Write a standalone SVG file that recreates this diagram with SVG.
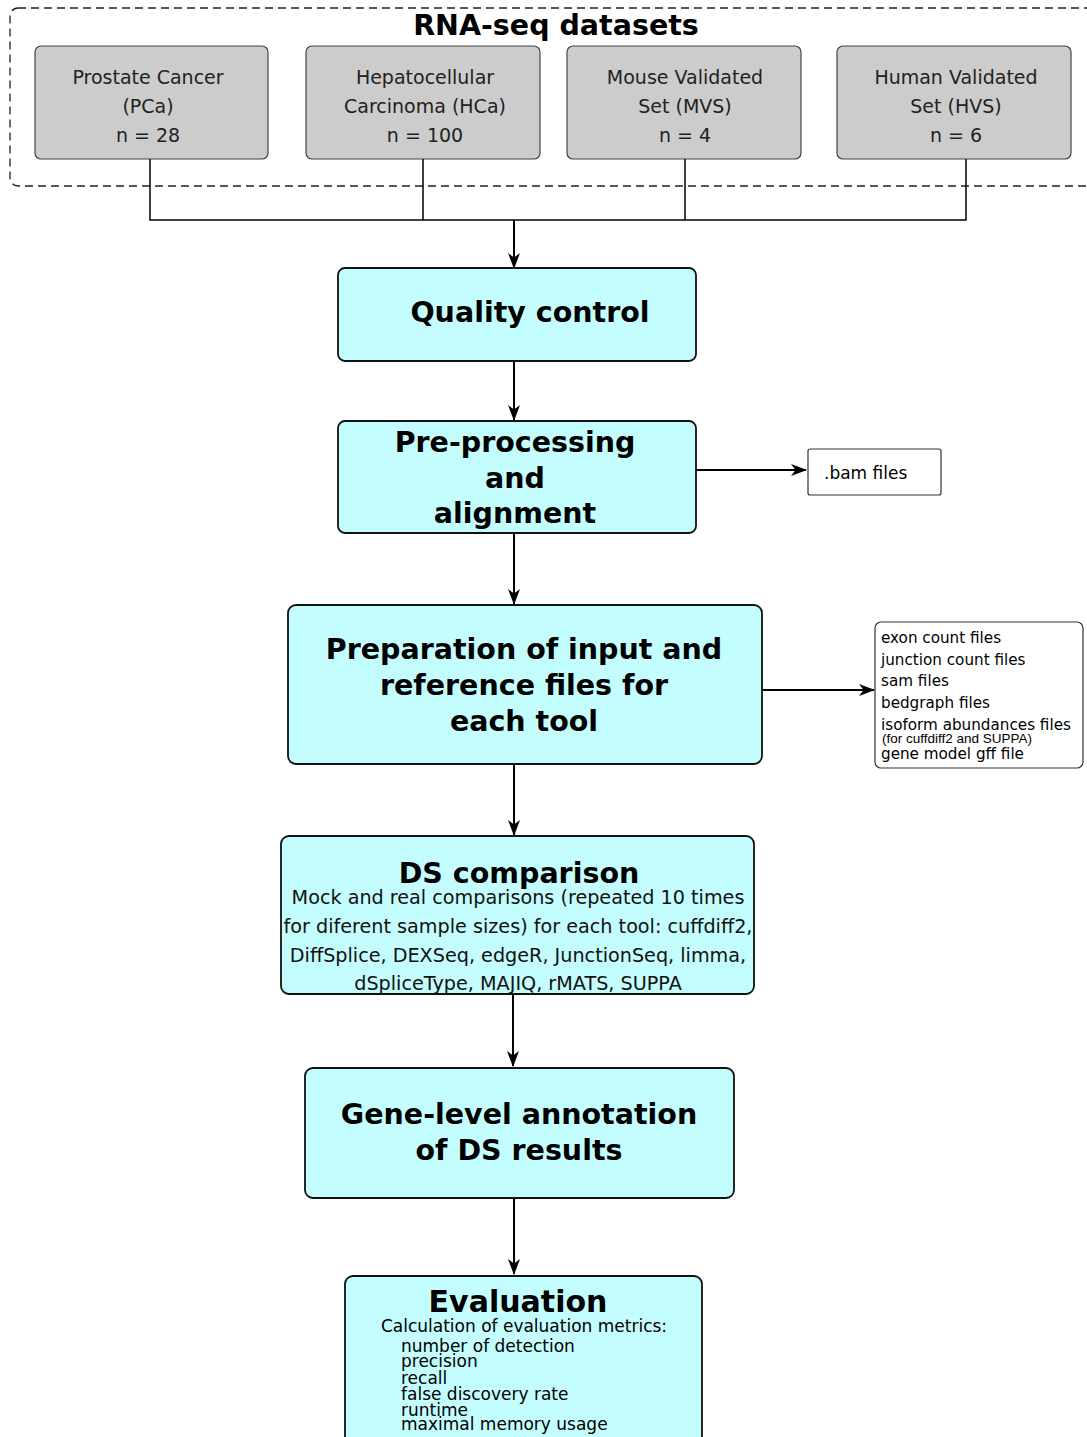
<svg xmlns="http://www.w3.org/2000/svg" width="1087" height="1437" viewBox="0 0 1087 1437">
<defs>
<marker id="ah" viewBox="0 0 16 12" refX="15" refY="6" markerWidth="16" markerHeight="12" markerUnits="userSpaceOnUse" orient="auto">
<path d="M0,0 L16,6 L0,12 L4.5,6 Z" fill="#000"/>
</marker>
<style>
text{font-family:"DejaVu Sans","Noto Sans",sans-serif;fill:#000}
.ds{fill:#cccccc;stroke:#444;stroke-width:1.2}
.st{fill:#c4fdfd;stroke:#111;stroke-width:1.8}
.wb{fill:#fff;stroke:#333;stroke-width:1.2}
.gt{font-size:19px;text-anchor:middle;fill:#222}
.bt{font-size:28.5px;font-weight:bold;text-anchor:middle}
.ln{fill:none;stroke:#000;stroke-width:1.5}
.ar{fill:none;stroke:#000;stroke-width:2;marker-end:url(#ah)}
.sm{font-size:15.2px}
.md{font-size:19.2px;text-anchor:middle;fill:#111}
</style>
</defs>
<rect width="1087" height="1437" fill="#fff"/>
<g id="datasets">
<rect x="10" y="8" width="1100" height="178" rx="8" fill="none" stroke="#222" stroke-width="1.3" stroke-dasharray="8,5"/>
<text x="556" y="35" font-size="28.5" font-weight="bold" text-anchor="middle">RNA-seq datasets</text>
</g>
<g id="pca">
<rect class="ds" x="35" y="46" width="233" height="113" rx="6"/>
<text class="gt" x="148" y="84">Prostate Cancer</text>
<text class="gt" x="148" y="113">(PCa)</text>
<text class="gt" x="148" y="142">n = 28</text>
</g>
<g id="hca">
<rect class="ds" x="306" y="46" width="234" height="113" rx="6"/>
<text class="gt" x="425" y="84">Hepatocellular</text>
<text class="gt" x="425" y="113">Carcinoma (HCa)</text>
<text class="gt" x="425" y="142">n = 100</text>
</g>
<g id="mvs">
<rect class="ds" x="567" y="46" width="234" height="113" rx="6"/>
<text class="gt" x="685" y="84">Mouse Validated</text>
<text class="gt" x="685" y="113">Set (MVS)</text>
<text class="gt" x="685" y="142">n = 4</text>
</g>
<g id="hvs">
<rect class="ds" x="837" y="46" width="234" height="113" rx="6"/>
<text class="gt" x="956" y="84">Human Validated</text>
<text class="gt" x="956" y="113">Set (HVS)</text>
<text class="gt" x="956" y="142">n = 6</text>
</g>
<g id="connectors">
<path class="ln" d="M150,159 V220 H966 V159 M423,159 V220 M685,159 V220"/>
<path class="ar" d="M514,220 V268"/>
<path class="ar" d="M514,361 V420"/>
<path class="ar" d="M696,470 H806"/>
<path class="ar" d="M514,533 V604"/>
<path class="ar" d="M762,690 H874"/>
<path class="ar" d="M514,764 V835"/>
<path class="ar" d="M513,994 V1066"/>
<path class="ar" d="M514,1198 V1274"/>
</g>
<g id="qc">
<rect class="st" x="338" y="268" width="358" height="93" rx="7"/>
<text class="bt" x="530" y="322">Quality control</text>
</g>
<g id="prep">
<rect class="st" x="338" y="421" width="358" height="112" rx="7"/>
<text class="bt" x="515" y="452">Pre-processing</text>
<text class="bt" x="515" y="488">and</text>
<text class="bt" x="515" y="523">alignment</text>
</g>
<g id="bam">
<rect class="wb" x="808" y="449" width="133" height="46" rx="2"/>
<text x="824" y="479" font-size="17" fill="#222">.bam files</text>
</g>
<g id="input">
<rect class="st" x="288" y="605" width="474" height="159" rx="8"/>
<text class="bt" x="524" y="659">Preparation of input and</text>
<text class="bt" x="524" y="695">reference files for</text>
<text class="bt" x="524" y="731">each tool</text>
</g>
<g id="files">
<rect class="wb" x="875" y="622" width="208" height="146" rx="6" stroke-width="1.5"/>
<text class="sm" x="881" y="643">exon count files</text>
<text class="sm" x="881" y="665">junction count files</text>
<text class="sm" x="881" y="686">sam files</text>
<text class="sm" x="881" y="708">bedgraph files</text>
<text class="sm" x="881" y="730">isoform abundances files</text>
<text x="882" y="743" font-size="13.5" style="font-family:'Liberation Sans',sans-serif">(for cuffdiff2 and SUPPA)</text>
<text class="sm" x="881" y="759">gene model gff file</text>
</g>
<g id="ds">
<rect class="st" x="281" y="836" width="473" height="158" rx="8"/>
<text class="bt" x="519" y="883">DS comparison</text>
<text class="md" x="518" y="904">Mock and real comparisons (repeated 10 times</text>
<text class="md" x="518" y="933">for diferent sample sizes) for each tool: cuffdiff2,</text>
<text class="md" x="518" y="962">DiffSplice, DEXSeq, edgeR, JunctionSeq, limma,</text>
<text class="md" x="518" y="990">dSpliceType, MAJIQ, rMATS, SUPPA</text>
</g>
<g id="gene">
<rect class="st" x="305" y="1068" width="429" height="130" rx="8"/>
<text class="bt" x="519" y="1124">Gene-level annotation</text>
<text class="bt" x="519" y="1160">of DS results</text>
</g>
<g id="eval">
<rect class="st" x="345" y="1276" width="357" height="175" rx="8"/>
<text class="bt" x="518" y="1312" style="font-size:30px">Evaluation</text>
<text x="524" y="1332" font-size="17" text-anchor="middle" fill="#111">Calculation of evaluation metrics:</text>
<g font-size="17" fill="#111">
<text x="401" y="1352">number of detection</text>
<text x="401" y="1367">precision</text>
<text x="401" y="1384">recall</text>
<text x="401" y="1400">false discovery rate</text>
<text x="401" y="1416">runtime</text>
<text x="401" y="1430">maximal memory usage</text>
</g>
</g>
</svg>
